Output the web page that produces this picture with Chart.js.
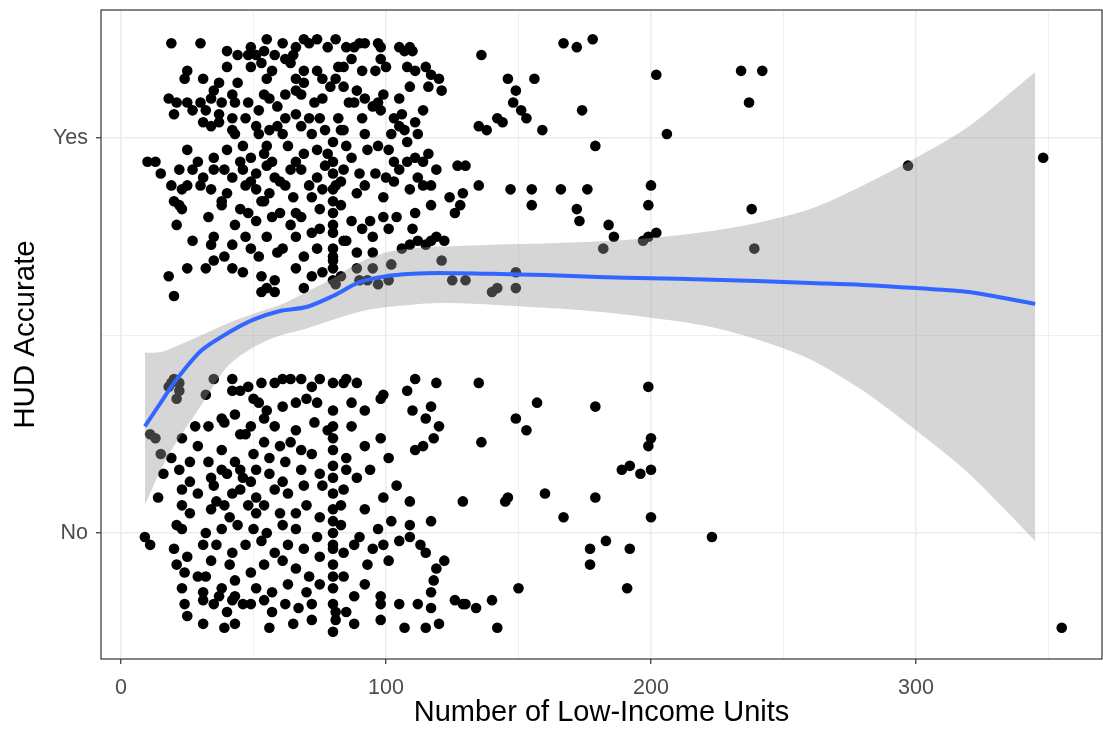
<!DOCTYPE html>
<html>
<head>
<meta charset="utf-8">
<script src="https://cdn.jsdelivr.net/npm/chart.js@4.4.1/dist/chart.umd.min.js"></script>
<style>
  html, body { margin: 0; padding: 0; background: #fff; }
  #wrap { width: 1103px; height: 730px; position: relative; }
</style>
</head>
<body>
<div id="wrap"><canvas id="hudChart"></canvas></div>
<script>
// jittered points, HUD accurate = Yes (plotted around 1)
const yesUnits = [
  19,30,40,44,49,54,55,61,66,69,71,74,78,81,85,88,90,92,97,98,105,107,109,110,48,65,51,58,62,
  25,24,40,37,44,49,53,57,64,69,74,81,84,87,91,98,96,100,108,111,117,115,82,76,66,69,55,31,
  18,21,25,30,34,35,38,42,48,54,56,62,66,68,76,79,84,89,86,92,99,97,105,109,116,121,120,
  20,32,37,43,52,59,66,73,75,82,88,95,98,106,105,114,103,111,91,47,62,71,42,27,
  31,34,37,43,51,56,61,68,72,77,83,92,102,107,112,52,59,42,84,
  10,13,25,29,35,40,46,49,54,63,66,69,74,78,80,85,87,93,97,101,103,108,114,116,111,57,45,55,
  15,27,22,39,42,46,51,55,58,64,68,74,77,84,90,96,100,105,108,112,119,127,130,60,49,35,31,
  19,23,25,20,30,34,40,47,51,56,62,65,71,72,76,80,83,89,92,99,103,109,114,117,124,135,38,54,
  22,23,38,45,48,53,60,66,68,75,80,83,87,94,99,104,111,117,126,128,33,57,
  21,27,35,43,47,51,55,64,66,72,75,80,84,91,95,101,110,112,117,119,122,
  34,42,35,39,49,52,59,61,69,74,80,85,89,95,106,109,121,115,
  18,25,32,42,46,53,58,66,72,76,80,83,89,95,102,93,97,125,130,149,
  20,53,55,58,69,80,90,101,142,140,149,
  80,80,80,80,80,80,81,81,
  136,146,156,149,148,151,153,159,144,138,135,142,167,172,178,174,179,202,206,234,242,237,297,348,
  238,239,147,155,166,176,155,172,173,184,186,182,200,199,202,199,197,129
];
const yesPos = [
  1.24,1.24,1.22,1.21,1.23,1.22,1.25,1.24,1.23,1.25,1.24,1.25,1.23,1.25,1.23,1.23,1.24,1.24,1.24,1.23,1.23,1.22,1.23,1.22,1.21,1.21,1.21,1.21,1.20,
  1.17,1.15,1.18,1.14,1.14,1.18,1.19,1.17,1.19,1.17,1.17,1.15,1.18,1.20,1.17,1.20,1.17,1.18,1.18,1.17,1.16,1.18,1.18,1.15,1.15,1.14,1.15,1.15,
  1.10,1.09,1.09,1.09,1.10,1.12,1.09,1.11,1.09,1.11,1.10,1.11,1.12,1.11,1.10,1.13,1.13,1.12,1.09,1.10,1.11,1.09,1.10,1.13,1.13,1.12,1.15,
  1.06,1.07,1.06,1.09,1.07,1.08,1.06,1.09,1.05,1.05,1.09,1.08,1.07,1.06,1.03,1.07,1.05,1.04,1.05,1.05,1.05,1.05,1.05,1.07,
  1.04,1.03,1.04,1.01,1.03,1.02,1.01,1.03,1.01,1.02,1.02,1.01,1.01,1.02,1.01,1.01,1.03,1.02,1.02,
  0.94,0.94,0.97,0.94,0.95,0.97,0.98,0.95,0.96,0.98,0.94,0.96,0.97,0.96,0.94,0.98,0.95,0.97,0.98,0.97,0.94,0.99,0.94,0.96,0.95,0.94,0.94,0.98,
  0.91,0.92,0.92,0.92,0.90,0.92,0.91,0.93,0.90,0.92,0.92,0.90,0.93,0.92,0.91,0.91,0.90,0.92,0.94,0.90,0.92,0.93,0.93,0.89,0.89,0.92,0.90,
  0.88,0.87,0.88,0.84,0.88,0.87,0.86,0.88,0.87,0.86,0.88,0.85,0.88,0.85,0.87,0.87,0.89,0.86,0.88,0.85,0.89,0.87,0.88,0.88,0.85,0.88,0.84,0.84,
  0.83,0.82,0.83,0.82,0.81,0.84,0.81,0.81,0.80,0.82,0.81,0.83,0.79,0.79,0.80,0.80,0.81,0.83,0.81,0.83,0.80,0.80,
  0.78,0.74,0.75,0.78,0.75,0.79,0.75,0.78,0.75,0.76,0.77,0.78,0.74,0.77,0.75,0.77,0.77,0.74,0.74,0.75,0.74,
  0.73,0.73,0.69,0.70,0.72,0.70,0.71,0.72,0.70,0.72,0.72,0.74,0.71,0.71,0.72,0.73,0.69,0.73,
  0.65,0.67,0.67,0.67,0.66,0.65,0.64,0.67,0.65,0.66,0.69,0.65,0.67,0.67,0.68,0.64,0.63,0.64,0.64,0.66,
  0.60,0.61,0.62,0.61,0.62,0.64,0.64,0.64,0.62,0.61,0.62,
  0.99,0.91,0.84,0.76,0.70,0.67,0.63,0.88,
  1.21,1.15,1.15,1.12,1.09,1.07,1.05,1.02,1.04,1.02,1.03,1.05,1.24,1.23,1.25,1.07,0.98,1.16,1.01,1.17,1.17,1.09,0.93,0.95,
  0.82,0.72,0.87,0.87,0.87,0.87,0.83,0.82,0.79,0.78,0.75,0.72,0.88,0.83,0.76,0.75,0.74,0.86
];

// jittered points, HUD accurate = No (plotted around 0)
const noUnits = [
  20,19,22,18,35,42,45,48,53,58,61,64,68,72,75,80,84,85,89,98,99,108,111,119,135,22,32,42,50,
  21,38,43,52,55,61,66,70,74,80,87,92,110,115,117,54,
  13,11,28,33,39,45,47,49,58,66,73,78,80,87,98,120,118,114,23,29,54,64,
  15,19,26,33,38,43,50,56,60,62,68,72,80,85,92,101,111,38,45,
  22,16,26,34,40,46,51,56,61,68,75,80,85,94,89,49,
  14,23,29,35,42,45,51,58,63,69,76,80,84,99,104,36,
  23,26,34,41,48,51,54,60,66,70,75,80,83,92,102,109,117,39,
  9,11,21,23,32,38,44,50,55,61,66,74,80,83,90,97,109,109,105,
  20,31,36,42,47,53,58,63,69,75,80,84,88,95,99,113,115,25,
  21,24,34,41,49,54,61,66,71,80,84,93,101,122,119,29,32,43,
  23,31,38,43,51,57,63,70,75,80,88,92,98,117,118,112,129,37,
  24,25,31,35,40,46,54,57,62,67,72,80,85,98,105,117,126,130,134,42,49,
  31,39,43,56,65,72,80,88,98,107,115,120,142,
  80,80,80,80,80,81,81,
  199,179,157,149,153,136,200,199,192,189,196,200,179,160,146,145,129,167,200,223,183,177,177,192,191,150,140,355
];
const noPos = [
  0.39,0.38,0.38,0.37,0.39,0.36,0.36,0.37,0.38,0.38,0.39,0.39,0.39,0.37,0.39,0.38,0.38,0.39,0.38,0.34,0.35,0.36,0.39,0.38,0.38,0.36,0.35,0.39,0.34,
  0.34,0.29,0.30,0.33,0.31,0.32,0.33,0.34,0.33,0.31,0.33,0.31,0.31,0.29,0.32,0.29,
  0.24,0.25,0.27,0.27,0.28,0.25,0.25,0.27,0.27,0.26,0.28,0.26,0.27,0.27,0.24,0.27,0.24,0.22,0.24,0.22,0.23,0.23,
  0.20,0.19,0.18,0.18,0.21,0.18,0.20,0.19,0.22,0.18,0.21,0.20,0.21,0.19,0.22,0.19,0.21,0.16,0.16,
  0.16,0.15,0.13,0.14,0.15,0.14,0.16,0.15,0.13,0.16,0.15,0.14,0.16,0.16,0.14,0.13,
  0.09,0.11,0.10,0.12,0.10,0.11,0.09,0.11,0.10,0.12,0.12,0.10,0.11,0.09,0.12,0.08,
  0.07,0.05,0.06,0.04,0.07,0.05,0.07,0.05,0.05,0.07,0.04,0.06,0.07,0.06,0.03,0.08,0.03,0.07,
  -0.01,-0.03,0.02,0.01,0.00,0.01,0.02,0.01,0.00,0.02,0.01,-0.01,0.00,0.02,-0.01,0.01,0.02,-0.01,-0.02,
  -0.04,-0.03,-0.03,-0.05,-0.03,-0.02,-0.05,-0.03,-0.04,-0.06,-0.04,-0.05,-0.03,-0.04,-0.03,-0.03,-0.05,-0.06,
  -0.08,-0.10,-0.07,-0.08,-0.10,-0.08,-0.07,-0.09,-0.11,-0.08,-0.11,-0.08,-0.07,-0.07,-0.09,-0.11,-0.11,-0.12,
  -0.14,-0.15,-0.14,-0.16,-0.14,-0.15,-0.13,-0.15,-0.13,-0.14,-0.16,-0.13,-0.16,-0.15,-0.12,-0.18,-0.18,-0.16,
  -0.18,-0.21,-0.17,-0.18,-0.20,-0.18,-0.17,-0.20,-0.18,-0.19,-0.18,-0.18,-0.20,-0.18,-0.18,-0.19,-0.17,-0.18,-0.19,-0.17,-0.18,
  -0.23,-0.24,-0.23,-0.24,-0.23,-0.22,-0.25,-0.23,-0.22,-0.24,-0.24,-0.23,-0.24,
  0.24,0.17,0.03,-0.03,-0.11,-0.20,-0.22,
  0.37,0.32,0.33,0.29,0.26,0.23,0.24,0.22,0.17,0.16,0.15,0.16,0.09,0.10,0.09,0.08,0.08,0.04,0.04,-0.01,-0.02,-0.04,-0.08,-0.04,-0.14,-0.14,-0.17,-0.24
];

// loess smooth and its confidence band
const fitUnits = [9,15,20,30,40,50,60,70,80,90,100,110,120,140,160,180,200,220,240,260,280,300,320,345];
const fitValue = [0.27,0.33,0.38,0.46,0.505,0.54,0.562,0.572,0.60,0.635,0.65,0.656,0.658,0.656,0.653,0.648,0.645,0.642,0.638,0.633,0.628,0.62,0.61,0.58];
const fitUpper = [0.456,0.458,0.47,0.50,0.53,0.555,0.577,0.61,0.645,0.685,0.71,0.72,0.725,0.73,0.733,0.738,0.747,0.762,0.785,0.82,0.88,0.95,1.03,1.167];
const fitLower = [0.07,0.16,0.22,0.32,0.42,0.47,0.50,0.518,0.54,0.56,0.572,0.578,0.582,0.578,0.57,0.56,0.545,0.525,0.49,0.44,0.36,0.26,0.15,-0.02];

const xTicks = [0,50,100,150,200,250,300,350];
const yTicks = [0,0.5,1];
const yTickLabels = { 0: 'No', 1: 'Yes' };

const pts = yesUnits.map((u, i) => ({ x: u, y: yesPos[i] }))
  .concat(noUnits.map((u, i) => ({ x: u, y: noPos[i] })));
const toXY = arr => fitUnits.map((u, i) => ({ x: u, y: arr[i] }));

const FONT = '"Liberation Sans", Arial, Helvetica, sans-serif';

const panelBorder = {
  id: 'panelBorder',
  afterDraw(chart) {
    const a = chart.chartArea, c = chart.ctx;
    c.save();
    c.strokeStyle = '#333333';
    c.lineWidth = 1.2;
    c.strokeRect(a.left, a.top, a.right - a.left, a.bottom - a.top);
    c.restore();
  }
};

const ctx = document.getElementById('hudChart').getContext('2d');
new Chart(ctx, {
  type: 'scatter',
  data: {
    datasets: [
      {
        data: pts,
        backgroundColor: '#000000',
        borderWidth: 0,
        pointRadius: 5.3,
        pointHoverRadius: 5.3,
        order: 3
      },
      {
        type: 'line',
        data: toXY(fitUpper),
        borderWidth: 0,
        borderColor: 'rgba(0,0,0,0)',
        backgroundColor: 'rgba(153,153,153,0.4)',
        pointRadius: 0,
        tension: 0.3,
        fill: '+1',
        order: 2
      },
      {
        type: 'line',
        data: toXY(fitLower),
        borderWidth: 0,
        borderColor: 'rgba(0,0,0,0)',
        pointRadius: 0,
        tension: 0.3,
        fill: false,
        order: 2
      },
      {
        type: 'line',
        data: toXY(fitValue),
        borderColor: '#3366FF',
        borderWidth: 4,
        pointRadius: 0,
        tension: 0.3,
        fill: false,
        order: 1
      }
    ]
  },
  options: {
    responsive: true,
    maintainAspectRatio: false,
    animation: false,
    events: [],
    layout: { autoPadding: false, padding: { top: 10, right: 1, left: 0, bottom: 0 } },
    plugins: { legend: { display: false }, tooltip: { enabled: false } },
    scales: {
      x: {
        type: 'linear',
        min: -7.55,
        max: 370.2,
        afterBuildTicks: s => { s.ticks = xTicks.map(v => ({ value: v })); },
        afterFit: s => { s.height = 71; s.paddingLeft = 0; s.paddingRight = 0; },
        border: { display: false },
        grid: {
          color: '#EBEBEB',
          lineWidth: c => (c.tick && c.tick.value % 100 === 0 ? 1.5 : 0.8),
          tickColor: c => (c.tick && c.tick.value % 100 === 0 ? '#333333' : 'rgba(0,0,0,0)'),
          tickWidth: 1.2,
          tickLength: 5
        },
        ticks: {
          autoSkip: false,
          maxRotation: 0,
          padding: 11,
          color: '#4D4D4D',
          font: { family: FONT, size: 21.5 },
          callback: v => (v % 100 === 0 ? String(v) : '')
        },
        title: {
          display: true,
          text: 'Number of Low-Income Units',
          color: '#000000',
          font: { family: FONT, size: 29 },
          padding: { top: 0, bottom: 0 }
        }
      },
      y: {
        type: 'linear',
        min: -0.319,
        max: 1.324,
        afterBuildTicks: s => { s.ticks = yTicks.map(v => ({ value: v })); },
        afterFit: s => { s.width = 101; s.paddingTop = 0; s.paddingBottom = 0; },
        border: { display: false },
        grid: {
          color: '#EBEBEB',
          lineWidth: c => (c.tick && c.tick.value % 1 === 0 ? 1.5 : 0.8),
          tickColor: c => (c.tick && c.tick.value % 1 === 0 ? '#333333' : 'rgba(0,0,0,0)'),
          tickWidth: 1.2,
          tickLength: 5
        },
        ticks: {
          autoSkip: false,
          padding: 8,
          color: '#4D4D4D',
          font: { family: FONT, size: 21.5 },
          callback: v => yTickLabels[v] || ''
        },
        title: {
          display: true,
          text: 'HUD Accurate',
          color: '#000000',
          font: { family: FONT, size: 29.5 },
          padding: { top: 8.5, bottom: 0 }
        }
      }
    }
  },
  plugins: [panelBorder]
});
</script>
</body>
</html>
